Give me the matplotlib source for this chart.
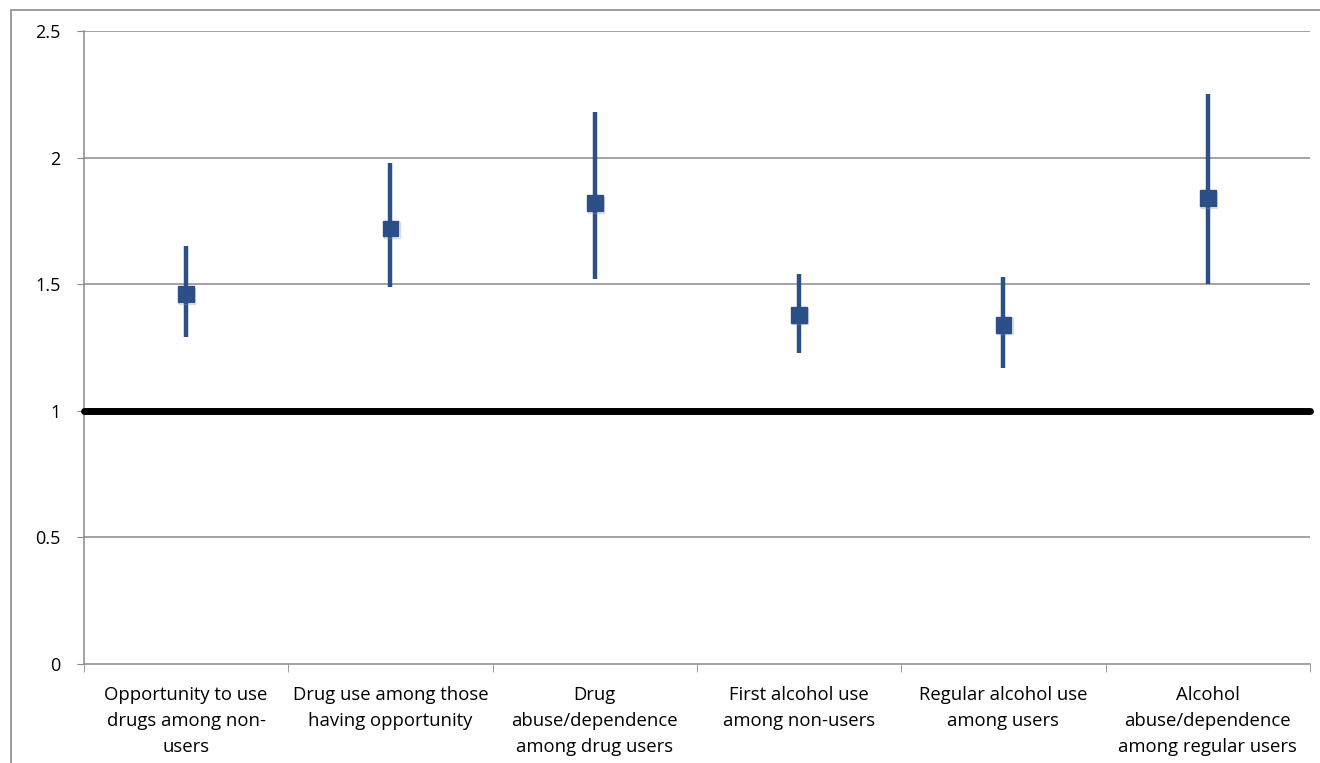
import matplotlib
matplotlib.use("Agg")
import matplotlib.pyplot as plt
import matplotlib.patheffects as pe
from matplotlib.patches import Rectangle
import numpy as np

categories = [
    "Opportunity to use\ndrugs among non-\nusers",
    "Drug use among those\nhaving opportunity",
    "Drug\nabuse/dependence\namong drug users",
    "First alcohol use\namong non-users",
    "Regular alcohol use\namong users",
    "Alcohol\nabuse/dependence\namong regular users",
]
estimates = [1.46, 1.72, 1.82, 1.38, 1.34, 1.84]
lower = [1.29, 1.49, 1.52, 1.23, 1.17, 1.50]
upper = [1.65, 1.98, 2.18, 1.54, 1.53, 2.25]
yticks = [0, 0.5, 1, 1.5, 2, 2.5]
ytick_labels = ["0", "0.5", "1", "1.5", "2", "2.5"]
reference = 1.0

plt.rcParams['font.family'] = ['Open Sans', 'DejaVu Sans']

fig = plt.figure(figsize=(13.2, 7.63), dpi=100)
ax = fig.add_axes([84/1320, 1-664/763, (1310-84)/1320, (664-31)/763])

# outer frame
fig.add_artist(Rectangle((11/1320, -0.05), 1.2, 1-10/763+0.05, transform=fig.transFigure,
                         fill=False, edgecolor='#8c8c8c', linewidth=1.2))

x = np.arange(len(categories))
col = '#2B4F86'
est = np.array(estimates)
yerr = np.array([est - np.array(lower), np.array(upper) - est])

ax.set_xlim(-0.5, len(categories) - 0.5)
ax.set_ylim(0, 2.5)

for yv in yticks[1:]:
    ax.axhline(yv, color='#8a8a8a', linewidth=1.1, zorder=1)

ax.plot([-0.5, len(categories) - 0.5], [reference, reference], color='black',
        linewidth=5, solid_capstyle='round', zorder=3, clip_on=False)

ax.errorbar(x, est, yerr=yerr, fmt='none', ecolor=col, elinewidth=3.2, capsize=0, zorder=4)
ax.plot(x, est, linestyle='none', marker='s', markersize=11.5, color=col,
        markeredgecolor=col, zorder=5,
        path_effects=[pe.SimpleLineShadow(offset=(0.8, -1.2), shadow_color='#999999', alpha=0.35),
                      pe.Normal()])

ax.set_yticks(yticks)
ax.set_yticklabels(ytick_labels, fontsize=13)
ax.set_xticks(x)
ax.set_xticklabels(categories, fontsize=13.3, linespacing=1.55)
ax.tick_params(axis='x', length=0, pad=16)
ax.tick_params(axis='y', length=5, color='#8a8a8a', pad=12)
ax.set_xticks(np.arange(-0.5, len(categories)), minor=True)
ax.tick_params(axis='x', which='minor', length=6, color='#8a8a8a', direction='out')

for s in ['top', 'right']:
    ax.spines[s].set_visible(False)
for s in ['left', 'bottom']:
    ax.spines[s].set_color('#8a8a8a')
    ax.spines[s].set_linewidth(1.1)

fig.savefig("out.png", dpi=100)
